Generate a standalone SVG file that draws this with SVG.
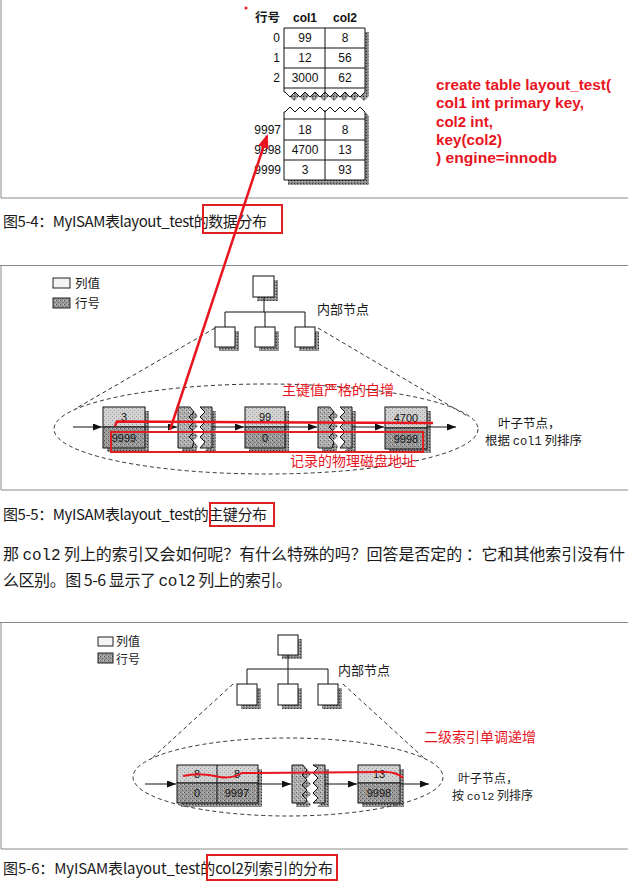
<svg xmlns="http://www.w3.org/2000/svg" width="628" height="881" viewBox="0 0 628 881">
<defs>
<style>
.frame{stroke:#8a8a8a;stroke-width:1;fill:none}
.cjk{font-family:'Noto Sans CJK SC','Noto Sans',sans-serif;fill:#1a1a1a}
.cap{font-family:'Noto Sans CJK SC','Noto Sans',sans-serif;font-size:15px;fill:#1a1a1a}
.para{font-family:'Noto Sans CJK SC','Noto Sans',sans-serif;font-size:16px;fill:#1a1a1a}
.mono{font-family:'Liberation Mono','DejaVu Sans Mono',monospace}
.tbl{font-family:'Liberation Sans',Arial,sans-serif;font-size:12px;fill:#111;text-anchor:middle}
.hdr{font-family:'Liberation Sans',Arial,sans-serif;font-size:12px;font-weight:bold;fill:#111;text-anchor:middle}
.rown{font-family:'Liberation Sans',Arial,sans-serif;font-size:12px;fill:#111;text-anchor:end}
.num{font-family:'Liberation Sans',Arial,sans-serif;font-size:11px;fill:#111;text-anchor:middle}
.red{fill:#e8151f}
.code{font-family:'Liberation Sans',Arial,sans-serif;font-size:14px;font-weight:bold;fill:#e8151f}
.redcjk{font-family:'Noto Sans CJK SC','Noto Sans',sans-serif;font-size:14px;fill:#e8151f}
.redbox{fill:none;stroke:#e02020;stroke-width:2}
.ln{stroke:#111;stroke-width:1;fill:none}
.dash{stroke:#333;stroke-width:1;fill:none;stroke-dasharray:4 3}
.arr{stroke:#111;stroke-width:1;fill:none;marker-end:url(#ah)}
.wbox{fill:#fff;stroke:#111;stroke-width:1}
.shd{fill:url(#ps)}
.lt{fill:url(#pl);stroke:#111;stroke-width:1}
.dk{fill:url(#pd);stroke:#111;stroke-width:1}
.brk{fill:url(#pm);stroke:#111;stroke-width:1}
</style>
<pattern id="pl" width="4" height="4" patternUnits="userSpaceOnUse"><rect width="4" height="4" fill="#d2d2d2"/><rect x="0" y="0" width="1" height="1" fill="#999"/><rect x="2" y="2" width="1" height="1" fill="#a5a5a5"/></pattern>
<pattern id="pd" width="4" height="4" patternUnits="userSpaceOnUse"><rect width="4" height="4" fill="#9a9a9a"/><rect x="0" y="0" width="1" height="1" fill="#555"/><rect x="2" y="2" width="1" height="1" fill="#666"/><rect x="3" y="0" width="1" height="1" fill="#c8c8c8"/></pattern>
<pattern id="pm" width="4" height="4" patternUnits="userSpaceOnUse"><rect width="4" height="4" fill="#b0b0b0"/><rect x="0" y="0" width="1" height="1" fill="#666"/><rect x="2" y="2" width="1" height="1" fill="#777"/><rect x="1" y="3" width="1" height="1" fill="#ddd"/></pattern>
<pattern id="ps" width="3" height="3" patternUnits="userSpaceOnUse"><rect width="3" height="3" fill="#8a8a8a"/><rect x="0" y="0" width="1" height="1" fill="#333"/><rect x="2" y="1" width="1" height="1" fill="#c0c0c0"/></pattern>
<marker id="ah" markerUnits="userSpaceOnUse" markerWidth="9" markerHeight="7" refX="9" refY="3.5" orient="auto"><path d="M0,0 L9,3.5 L0,7 z" fill="#111"/></marker>
<marker id="rah" markerUnits="userSpaceOnUse" markerWidth="14" markerHeight="11" refX="12" refY="5.5" orient="auto"><path d="M0,0 L14,5.5 L0,11 z" fill="#e8151f"/></marker>
</defs>

<!-- panel frames -->
<g id="frames">
<path class="frame" d="M1,0 V198 H628"/>
<path class="frame" d="M0,265.5 H628 M1,265 V490 H628"/>
<path class="frame" d="M0,622.5 H628 M1,622 V849 H628"/>
</g>

<!-- Figure 5-4: table -->
<g id="table54">
<circle cx="246" cy="8" r="1.5" class="red"/>
<text x="255" y="22" class="cjk" font-size="12.5" font-weight="bold">行号</text>
<text x="305" y="22" class="hdr">col1</text>
<text x="345" y="22" class="hdr">col2</text>
<g id="tbl-top">
<polygon class="shd" points="288,32 369,32 369,96 364,101 359,96 354,101 349,96 344,101 339,96 334,101 329,96 324,101 319,96 314,101 309,96 304,101 299,96 294,101 289,96 288,96"/>
<polygon fill="#fff" stroke="#111" points="284,28 365,28 365,92 360,97 355,92 350,97 345,92 340,97 335,92 330,97 325,92 320,97 315,92 310,97 305,92 300,97 295,92 290,97 285,92 284,92"/>
<path class="ln" d="M284,48 H365 M284,68 H365 M284,88 H365 M325,28 V92"/>
<text x="280" y="42" class="rown">0</text><text x="305" y="42" class="tbl">99</text><text x="345" y="42" class="tbl">8</text>
<text x="280" y="62" class="rown">1</text><text x="305" y="62" class="tbl">12</text><text x="345" y="62" class="tbl">56</text>
<text x="280" y="82" class="rown">2</text><text x="305" y="82" class="tbl">3000</text><text x="345" y="82" class="tbl">62</text>
</g>
<g id="tbl-bottom">
<polygon class="shd" points="289,116 294,111 299,116 304,111 309,116 314,111 319,116 324,111 329,116 334,111 339,116 344,111 349,116 354,111 359,116 364,111 369,116 369,185 288,185 288,116"/>
<polygon fill="#fff" stroke="#111" points="284,112 285,112 290,107 295,112 300,107 305,112 310,107 315,112 320,107 325,112 330,107 335,112 340,107 345,112 350,107 355,112 360,107 365,112 365,180 284,180"/>
<path class="ln" d="M284,119 H365 M284,140 H365 M284,160 H365 M325,110 V180"/>
<text x="281" y="134" class="rown">9997</text><text x="305" y="134" class="tbl">18</text><text x="345" y="134" class="tbl">8</text>
<text x="281" y="154" class="rown">9998</text><text x="305" y="154" class="tbl">4700</text><text x="345" y="154" class="tbl">13</text>
<text x="281" y="174" class="rown">9999</text><text x="305" y="174" class="tbl">3</text><text x="345" y="174" class="tbl">93</text>
</g>
</g>

<g id="code">
<text x="436" y="90" class="code" textLength="175" lengthAdjust="spacingAndGlyphs">create table layout_test(</text>
<text x="436" y="108" class="code" textLength="148" lengthAdjust="spacingAndGlyphs">col1 int primary key,</text>
<text x="436" y="127" class="code" textLength="57" lengthAdjust="spacingAndGlyphs">col2 int,</text>
<text x="436" y="145" class="code" textLength="66" lengthAdjust="spacingAndGlyphs">key(col2)</text>
<text x="436" y="163" class="code" textLength="121" lengthAdjust="spacingAndGlyphs">) engine=innodb</text>
</g>

<g id="caption54">
<text x="3" y="227" class="cap" textLength="264">图5-4：MyISAM表layout_test的数据分布</text>
<rect x="203" y="205" width="79" height="28" class="redbox"/>
</g>

<!-- Figure 5-5 -->
<g id="legend55">
<rect x="53" y="278" width="17" height="10" fill="#f4f4f4" stroke="#222"/>
<text x="75" y="288" class="cjk" font-size="12.5">列值</text>
<rect x="53" y="298" width="17" height="10" fill="url(#pd)" stroke="#222"/>
<text x="75" y="308" class="cjk" font-size="12.5">行号</text>
</g>

<g id="tree55">
<g id="root55"><rect x="257" y="280" width="21" height="21" class="shd"/><rect x="253" y="276" width="21" height="21" class="wbox"/></g>
<g id="c55a"><rect x="219" y="331" width="20" height="20" class="shd"/><rect x="215" y="327" width="20" height="20" class="wbox"/></g>
<g id="c55b"><rect x="259" y="331" width="20" height="20" class="shd"/><rect x="255" y="327" width="20" height="20" class="wbox"/></g>
<g id="c55c"><rect x="299" y="331" width="20" height="20" class="shd"/><rect x="295" y="327" width="20" height="20" class="wbox"/></g>
<text x="317" y="314" class="cjk" font-size="13">内部节点</text>
</g>

<g id="leaf55">
<g id="n55a"><rect x="107" y="411" width="42" height="41" class="shd"/><rect x="103" y="407" width="42" height="20" class="lt"/><rect x="103" y="427" width="42" height="21" class="dk"/>
<text x="124" y="421" class="num">3</text><text x="124" y="442" class="num">9999</text></g>
<g id="n55b"><polygon class="shd" points="182,411 194,411 198,416 193,421 198,426 193,431 198,436 193,441 198,446 196,452 182,452"/><polygon class="shd" points="204,411 216,411 216,452 204,452 209,446 204,441 209,436 204,431 209,426 204,421 209,416"/>
<polygon class="brk" points="178,407 190,407 194,412 189,417 194,422 189,427 194,432 189,437 194,442 192,448 178,448"/><polygon class="brk" points="200,407 212,407 212,448 200,448 205,442 200,437 205,432 200,427 205,422 200,417 205,412"/></g>
<g id="n55c"><rect x="249" y="411" width="40" height="41" class="shd"/><rect x="245" y="407" width="40" height="20" class="lt"/><rect x="245" y="427" width="40" height="21" class="dk"/>
<text x="265" y="421" class="num">99</text><text x="265" y="442" class="num">0</text></g>
<g id="n55d"><polygon class="shd" points="322,411 334,411 338,416 333,421 338,426 333,431 338,436 333,441 338,446 336,452 322,452"/><polygon class="shd" points="344,411 356,411 356,452 344,452 349,446 344,441 349,436 344,431 349,426 344,421 349,416"/>
<polygon class="brk" points="318,407 330,407 334,412 329,417 334,422 329,427 334,432 329,437 334,442 332,448 318,448"/><polygon class="brk" points="340,407 352,407 352,448 340,448 345,442 340,437 345,432 340,427 345,422 340,417 345,412"/></g>
<g id="n55e"><rect x="389" y="411" width="42" height="42" class="shd"/><rect x="385" y="407" width="42" height="21" class="lt"/><rect x="385" y="428" width="42" height="21" class="dk"/>
<text x="406" y="422" class="num">4700</text><text x="406" y="443" class="num">9998</text></g>
<text x="498" y="428" class="cjk" font-size="12.5">叶子节点，</text>
<text x="485" y="445" class="cjk" font-size="12.5">根据 <tspan class="mono" font-size="12">col1</tspan> 列排序</text>
</g>

<g id="connectors55">
<path class="ln" d="M264,297 V312 M225,312 H305 M225,312 V327 M265,312 V327 M305,312 V327"/>
<ellipse cx="266" cy="429" rx="212" ry="45" class="dash"/>
<path class="dash" d="M215,328 L75,409 M318,328 L469,417"/>
<path class="arr" d="M73,427 H102"/>
<path class="arr" d="M145,427 H177"/>
<path class="arr" d="M212,427 H244"/>
<path class="arr" d="M285,427 H317"/>
<path class="arr" d="M352,427 H384"/>
<path class="arr" d="M427,427 H456"/>
</g>

<g id="annot55">
<text x="282" y="395" class="redcjk">主键值严格的自增</text>
<polyline points="115,426 117,421.5 433,423" fill="none" stroke="#e8151f" stroke-width="2.5"/>
<rect x="111" y="432" width="312" height="20" class="redbox"/>
<text x="290" y="466" class="redcjk">记录的物理磁盘地址</text>
<line x1="170" y1="430" x2="267" y2="136" stroke="#e8151f" stroke-width="2.5" marker-end="url(#rah)"/>
</g>

<g id="caption55">
<text x="3" y="520" class="cap" textLength="264">图5-5：MyISAM表layout_test的主键分布</text>
<rect x="210" y="503" width="64" height="23" class="redbox"/>
</g>

<g id="paragraph">
<text x="3" y="560" class="para" textLength="622">那 <tspan class="mono">col2</tspan> 列上的索引又会如何呢？有什么特殊的吗？回答是否定的 ：它和其他索引没有什</text>
<text x="3" y="586" class="para" textLength="289">么区别。图 5-6 显示了 <tspan class="mono">col2</tspan> 列上的索引。</text>
</g>

<!-- Figure 5-6 -->
<g id="legend56">
<rect x="98" y="637" width="15" height="9" fill="#f4f4f4" stroke="#222"/>
<text x="116" y="646" class="cjk" font-size="12">列值</text>
<rect x="98" y="653" width="15" height="10" fill="url(#pd)" stroke="#222"/>
<text x="116" y="664" class="cjk" font-size="12">行号</text>
</g>

<g id="tree56">
<g id="root56"><rect x="282" y="639" width="20" height="20" class="shd"/><rect x="278" y="635" width="20" height="20" class="wbox"/></g>
<g id="c56a"><rect x="241" y="688" width="20" height="21" class="shd"/><rect x="237" y="684" width="20" height="21" class="wbox"/></g>
<g id="c56b"><rect x="282" y="688" width="20" height="21" class="shd"/><rect x="278" y="684" width="20" height="21" class="wbox"/></g>
<g id="c56c"><rect x="322" y="688" width="20" height="21" class="shd"/><rect x="318" y="684" width="20" height="21" class="wbox"/></g>
<text x="338" y="675" class="cjk" font-size="13">内部节点</text>
</g>

<g id="leaf56">
<g id="n56a"><rect x="181" y="769" width="81" height="38" class="shd"/><rect x="177" y="765" width="81" height="18" class="lt"/><rect x="177" y="783" width="81" height="20" class="dk"/><line x1="217" y1="765" x2="217" y2="803" class="ln"/>
<text x="197" y="778" class="num">8</text><text x="237" y="778" class="num">8</text>
<text x="197" y="797" class="num">0</text><text x="237" y="797" class="num">9997</text></g>
<g id="n56b"><polygon class="shd" points="296,769 307,769 311,774 306,779 311,784 306,789 311,794 306,799 311,804 309,807 296,807"/><polygon class="shd" points="317,769 329,769 329,807 317,807 322,802 317,797 322,792 317,787 322,782 317,777 322,772"/>
<polygon class="brk" points="292,765 303,765 307,770 302,775 307,780 302,785 307,790 302,795 307,800 305,803 292,803"/><polygon class="brk" points="313,765 325,765 325,803 313,803 318,798 313,793 318,788 313,783 318,778 313,773 318,768"/></g>
<g id="n56c"><rect x="362" y="769" width="42" height="38" class="shd"/><rect x="358" y="765" width="42" height="18" class="lt"/><rect x="358" y="783" width="42" height="20" class="dk"/>
<text x="379" y="778" class="num">13</text><text x="379" y="797" class="num">9998</text></g>
<text x="458" y="783" class="cjk" font-size="12">叶子节点，</text>
<text x="452" y="800" class="cjk" font-size="12">按 <tspan class="mono" font-size="11.5">col2</tspan> 列排序</text>
</g>

<g id="connectors56">
<path class="ln" d="M288,655 V669 M247,669 H328 M247,669 V684 M288,669 V684 M328,669 V684"/>
<ellipse cx="288" cy="777" rx="155" ry="39" class="dash"/>
<path class="dash" d="M233,684 L150,760 M343,684 L425,759"/>
<path class="arr" d="M145,784 H176"/>
<path class="arr" d="M258,784 H291"/>
<path class="arr" d="M325,784 H357"/>
<path class="arr" d="M400,784 H429"/>
</g>

<g id="annot56">
<text x="424" y="742" class="redcjk">二级索引单调递增</text>
<path d="M183,776 Q200,772 220,777 Q232,779 242,773 L385,772 Q397,772 403,778" fill="none" stroke="#e8151f" stroke-width="2"/>
</g>

<g id="caption56">
<text x="3" y="874" class="cap" textLength="330">图5-6：MyISAM表layout_test的col2列索引的分布</text>
<rect x="207" y="855" width="130" height="25" class="redbox"/>
</g>
</svg>
